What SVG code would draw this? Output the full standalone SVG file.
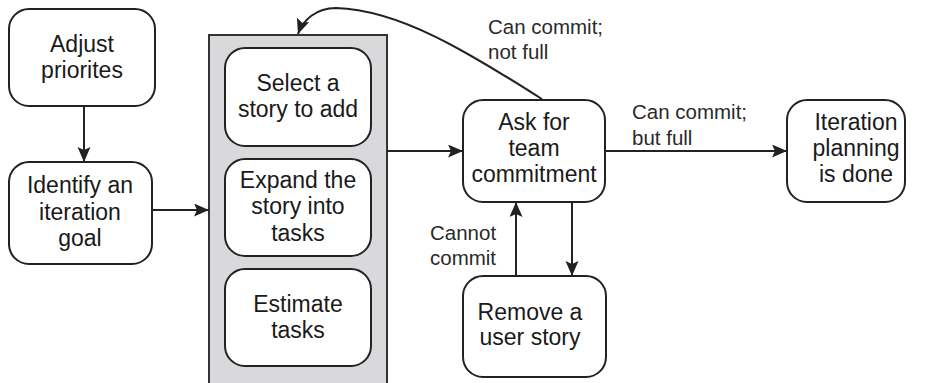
<svg xmlns="http://www.w3.org/2000/svg" width="925" height="383" viewBox="0 0 925 383">
<defs>
<marker id="arr" markerUnits="userSpaceOnUse" markerWidth="16" markerHeight="14" refX="15" refY="6.5" orient="auto">
<path d="M0,0 L15,6.5 L0,13 L3,6.5 z" fill="#222"/>
</marker>
<style>
.box{fill:#fff;stroke:#222;stroke-width:2}
.panel{fill:#d9d9dc;stroke:#333;stroke-width:2}
.t{font-family:"Liberation Sans",Arial,sans-serif;font-size:23px;fill:#1a1a1a;text-anchor:middle}
.l{font-family:"Liberation Sans",Arial,sans-serif;font-size:20.5px;fill:#2a2a2a}
.c{fill:none;stroke:#222;stroke-width:2;marker-end:url(#arr)}
</style>
</defs>
<rect width="925" height="383" fill="#fff"/>
<g id="adjust">
<rect class="box" x="9" y="9" width="146" height="97" rx="20"/>
<text class="t" x="82" y="52">Adjust</text>
<text class="t" x="82" y="78">priorites</text>
</g>
<g id="identify">
<rect class="box" x="9" y="162" width="143" height="102" rx="20"/>
<text class="t" x="80" y="193">Identify an</text>
<text class="t" x="80" y="220">iteration</text>
<text class="t" x="80" y="246">goal</text>
</g>
<g id="panel">
<rect class="panel" x="209" y="35" width="178" height="360"/>
</g>
<g id="select">
<rect class="box" x="225" y="48" width="146" height="98" rx="20"/>
<text class="t" x="298" y="91">Select a</text>
<text class="t" x="298" y="117">story to add</text>
</g>
<g id="expand">
<rect class="box" x="225" y="159" width="146" height="97" rx="20"/>
<text class="t" x="298" y="188">Expand the</text>
<text class="t" x="298" y="214">story into</text>
<text class="t" x="298" y="241">tasks</text>
</g>
<g id="estimate">
<rect class="box" x="225" y="269" width="146" height="97" rx="20"/>
<text class="t" x="298" y="312">Estimate</text>
<text class="t" x="298" y="338">tasks</text>
</g>
<g id="ask">
<rect class="box" x="463" y="100" width="142" height="102" rx="20"/>
<text class="t" x="534" y="130">Ask for</text>
<text class="t" x="534" y="156">team</text>
<text class="t" x="534" y="182">commitment</text>
</g>
<g id="done">
<rect class="box" x="787" y="100" width="118" height="102" rx="20"/>
<text class="t" x="856" y="130">Iteration</text>
<text class="t" x="856" y="156">planning</text>
<text class="t" x="856" y="182">is done</text>
</g>
<g id="remove">
<rect class="box" x="463" y="276" width="143" height="101" rx="20"/>
<text class="t" x="530" y="320">Remove a</text>
<text class="t" x="530" y="345">user story</text>
</g>
<g id="connectors">
<path class="c" d="M84,106 V162"/>
<path class="c" d="M152,210 H209"/>
<path class="c" d="M387,151 H463"/>
<path class="c" d="M605,151 H787"/>
<path class="c" d="M572,202 V276"/>
<path class="c" d="M516,276 V202"/>
<path class="c" d="M542,99 C472,55 402,10 336,8 C316,8 303,20 298,34"/>
</g>
<g id="labels">
<text class="l" x="488" y="34">Can commit;</text>
<text class="l" x="488" y="59">not full</text>
<text class="l" x="632" y="119">Can commit;</text>
<text class="l" x="632" y="145">but full</text>
<text class="l" x="430" y="240">Cannot</text>
<text class="l" x="430" y="265">commit</text>
</g>
</svg>
